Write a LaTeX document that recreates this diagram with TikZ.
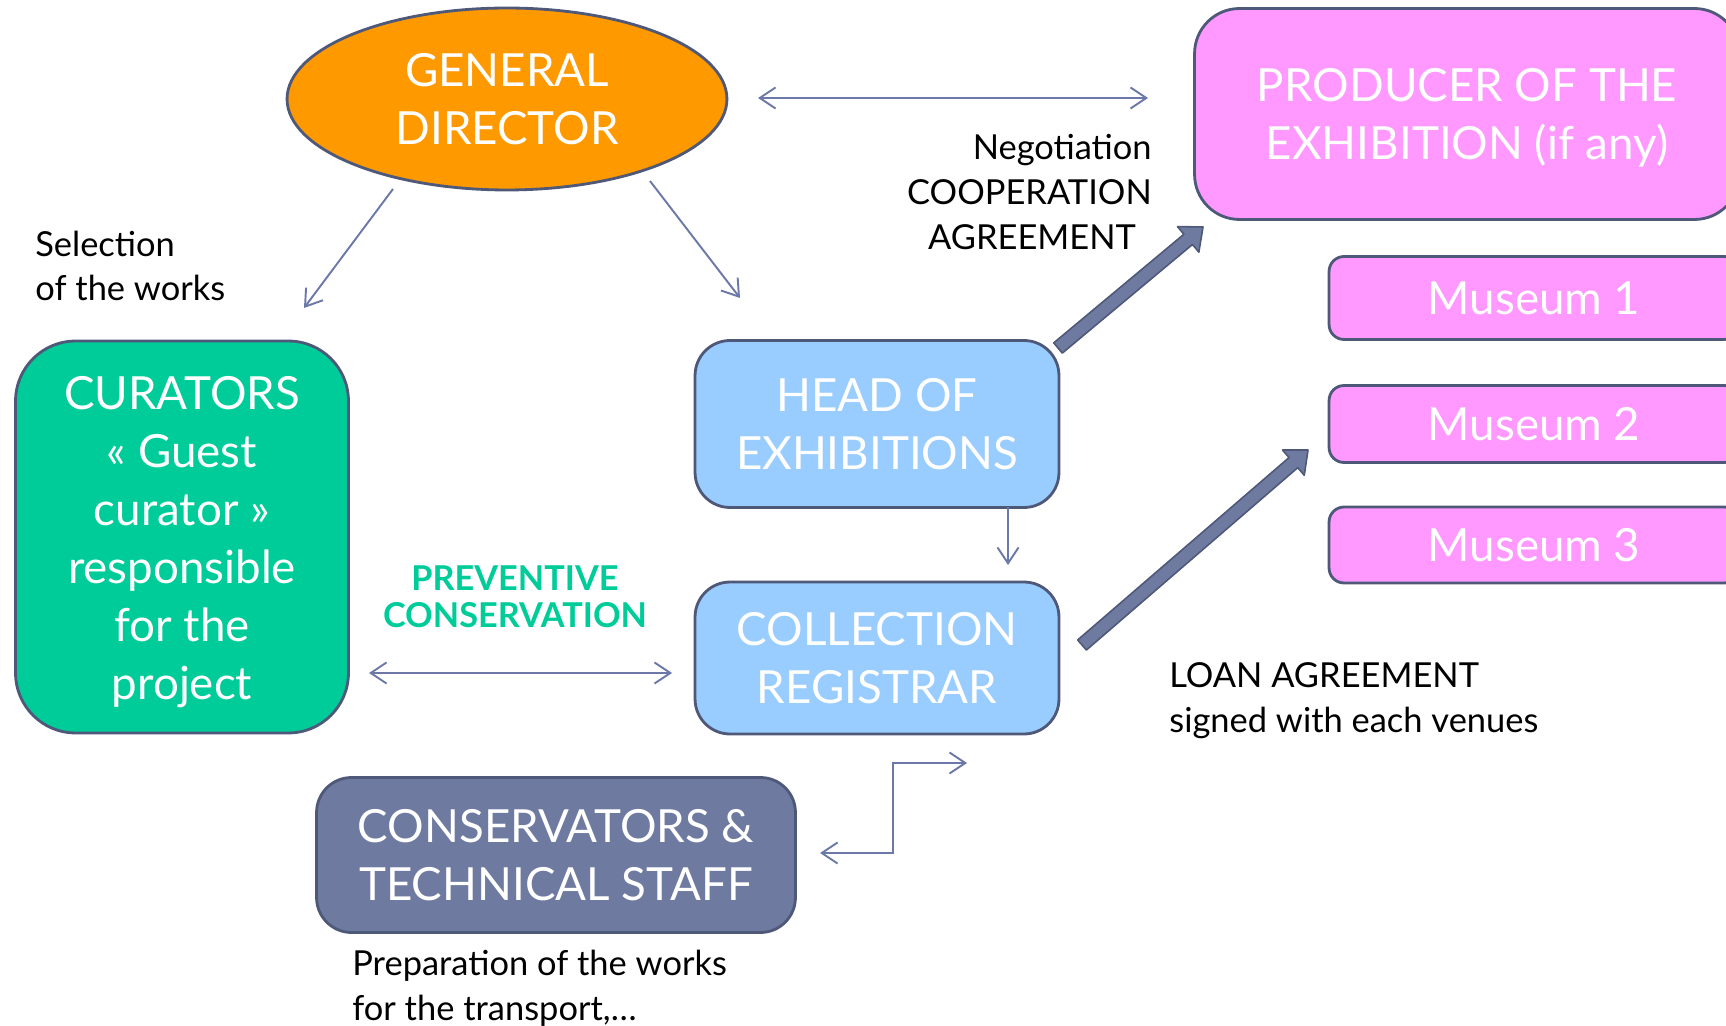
\documentclass[tikz,border=0pt]{standalone}
\usepackage{fontspec}
\setmainfont{Lato}
\usetikzlibrary{arrows.meta,calc,shapes.geometric}
%
\definecolor{naranja}{HTML}{FF9900}
\definecolor{rosa}{HTML}{FF99FF}
\definecolor{celeste}{HTML}{99CCFF}
\definecolor{verde}{HTML}{00CC99}
\definecolor{pizarra}{HTML}{6E7AA0}
\definecolor{linea}{HTML}{6C79A8}
\definecolor{borde}{HTML}{4E5878}
%
\newcommand{\grande}{\fontsize{26}{33}\selectfont}
\newcommand{\chica}{\fontsize{19.6}{25.5}\selectfont}
\newcommand{\media}{\fontsize{19.5}{21}\selectfont}
%
\tikzset{
  caja/.style={draw=borde, line width=1.6pt, text=white, align=center, font=\grande, inner sep=0pt},
  etiq/.style={font=\chica, inner sep=0pt},
  flecha/.style={draw=linea, line width=1.1pt, >={Straight Barb[length=9pt,width=12pt]}},
  gorda/.style={fill=pizarra, draw=borde, line width=0.9pt, line join=round}
}
% flecha gruesa: inicio, punta
\newcommand{\gruesa}[2]{%
  \coordinate (ga) at ($(#2)!11pt!(#1)$);
  \filldraw[gorda] ($(#1)!3.8pt!90:(#2)$) -- ($(ga)!3.8pt!90:(#2)$) -- ($(ga)!9.5pt!90:(#2)$)
    -- (#2) -- ($(ga)!9.5pt!-90:(#2)$) -- ($(ga)!3.8pt!-90:(#2)$) -- ($(#1)!3.8pt!-90:(#2)$) -- cycle;}
%
\begin{document}
\begin{tikzpicture}[x=0.02cm,y=-0.02cm]
%
\useasboundingbox (0,0) rectangle (1726,1026);
%
% cajas
\node[caja, ellipse, fill=naranja, minimum width=8.8cm, minimum height=3.64cm] (gd) at (507,99) {GENERAL\\DIRECTOR};
\node[caja, rounded corners=0.9cm, fill=rosa, minimum width=10.9cm, minimum height=4.22cm] (prod) at (1467,114) {\rule{0pt}{23pt}PRODUCER OF THE\\EXHIBITION (if any)};
\node[caja, rounded corners=0.3cm, fill=rosa, minimum width=8.2cm, minimum height=1.66cm] (m1) at (1534,298) {Museum 1};
\node[caja, rounded corners=0.3cm, fill=rosa, minimum width=8.2cm, minimum height=1.54cm] (m2) at (1534,424) {Museum 2};
\node[caja, rounded corners=0.3cm, fill=rosa, minimum width=8.2cm, minimum height=1.52cm] (m3) at (1534,545) {Museum 3};
\node[caja, rounded corners=0.7cm, fill=celeste, minimum width=7.28cm, minimum height=3.34cm] (head) at (877,424) {HEAD OF\\EXHIBITIONS};
\node[caja, rounded corners=0.7cm, fill=celeste, minimum width=7.28cm, minimum height=3.04cm] (reg) at (877,658) {COLLECTION\\REGISTRAR};
\node[caja, rounded corners=1.2cm, fill=verde, minimum width=6.66cm, minimum height=7.84cm] (cur) at (182,537) {\rule{0pt}{25pt}CURATORS\\« Guest\\curator »\\responsible\\for the\\project};
\node[caja, rounded corners=0.7cm, fill=pizarra, minimum width=9.58cm, minimum height=3.1cm] (cons) at (556,855) {CONSERVATORS \&\\TECHNICAL STAFF};
%
% textos
\node[etiq, anchor=west, align=left] (sel) at (35,266) {Selection\\of the works};
\node[etiq, anchor=east, align=right] (neg) at (1152,192) {Negotiation\\COOPERATION\hspace*{7pt}\\AGREEMENT\hspace*{9pt}};
\node[etiq, anchor=west, align=left] (loan) at (1169,701) {LOAN AGREEMENT\\signed with each venues};
\node[etiq, anchor=west, align=left] (prep) at (352,988) {Preparation of the works\\for the transport,\ldots};
\node[font=\bfseries\media, text=verde, align=center, inner sep=0pt] (prev) at (515,597) {PREVENTIVE\\CONSERVATION};
%
% puntos de las flechas
\coordinate (s1) at (393,189); \coordinate (s2) at (304,308);
\coordinate (h1) at (650,181); \coordinate (h2) at (740,298);
\coordinate (n1) at (758,98); \coordinate (n2) at (1148,98);
\coordinate (r1) at (1008,507); \coordinate (r2) at (1008,565);
\coordinate (p1) at (369,673); \coordinate (p2) at (672,673);
\coordinate (e1) at (820,853); \coordinate (ec) at (893,800); \coordinate (e2) at (967,763);
\coordinate (t1) at (1058,348); \coordinate (t2) at (1203,227);
\coordinate (t3) at (1082,645); \coordinate (t4) at (1308,450);
%
\draw[flecha, ->] (s1) -- (s2);
\draw[flecha, ->] (h1) -- (h2);
\draw[flecha, <->] (n1) -- (n2);
\draw[flecha, ->] (r1) -- (r2);
\draw[flecha, <->] (p1) -- (p2);
\draw[flecha, <->] (e1) -| (ec) |- (e2);
%
\gruesa{t1}{t2}
\gruesa{t3}{t4}
%
\end{tikzpicture}
\end{document}
